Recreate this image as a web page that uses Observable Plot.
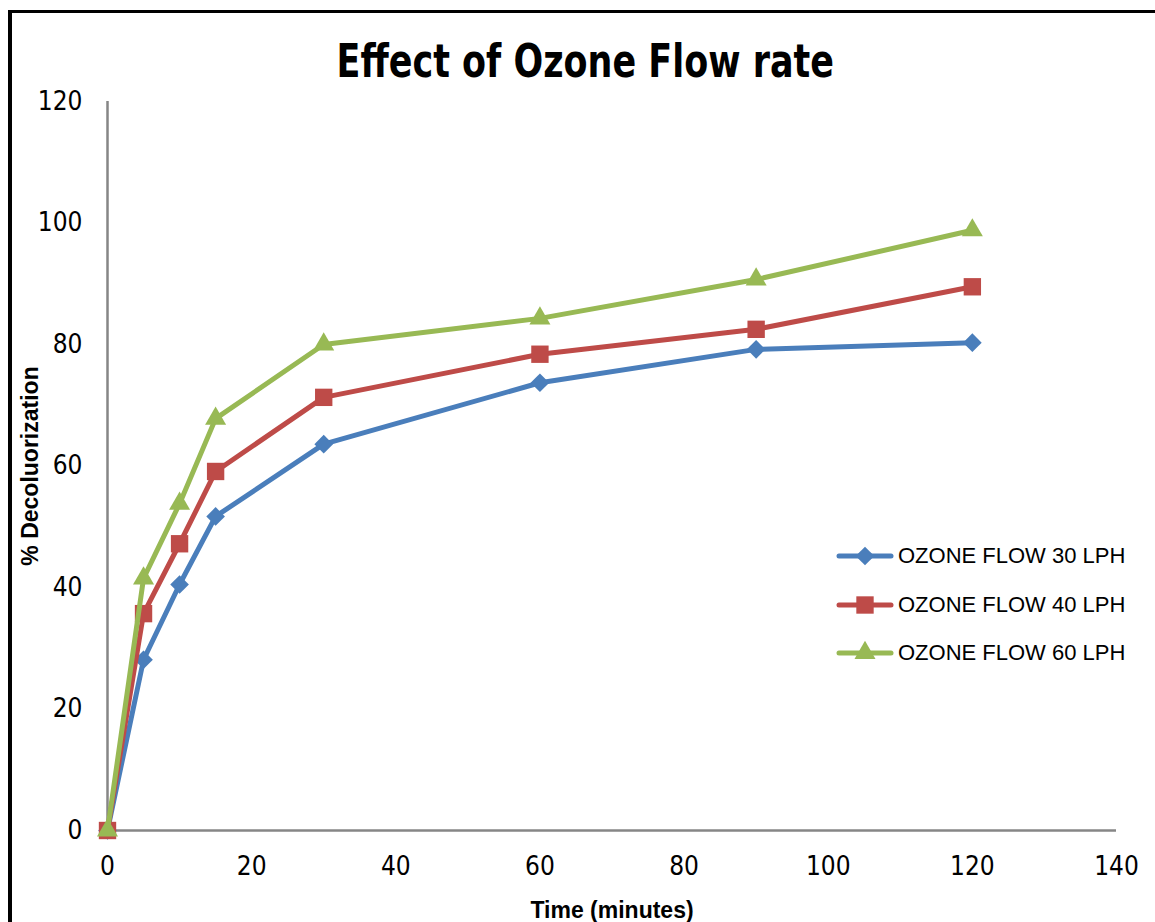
<!DOCTYPE html>
<html>
<head>
<meta charset="utf-8">
<script src="https://cdn.jsdelivr.net/npm/d3@7"></script>
<script src="https://cdn.jsdelivr.net/npm/@observablehq/plot@0.6"></script>
<style>
  html, body { margin: 0; padding: 0; background: #fff; }
  #wrap { position: relative; width: 1155px; height: 922px; overflow: hidden; background: #fff; }
  #frame { position: absolute; left: 8px; top: 10px; width: 1200px; height: 1000px;
           border-top: 3px solid #000; border-left: 4px solid #000; box-sizing: border-box; }
  #title { position: relative; height: 90px; text-align: center; color: #000; }
  #title span { display: inline-block; font-family: "DejaVu Sans", sans-serif; font-weight: bold; font-size: 46px;
           line-height: 46px; margin-top: 38px; margin-left: 16px; transform: scaleX(0.76); transform-origin: center; }
  #legend { position: absolute; left: 836px; top: 532px; font-family: "Liberation Sans", Arial, sans-serif; font-size: 22px; color: #000; }
  .row { display: flex; align-items: center; height: 48.5px; }
  .row svg { margin-right: 4px; }
</style>
</head>
<body>
<div id="wrap">
  <div id="frame"></div>
  <div id="title"><span>Effect of Ozone Flow rate</span></div>
  <div id="chart"></div>
  <div id="legend"></div>
</div>
<script>
const time = [0, 5, 10, 15, 30, 60, 90, 120];
const flow30 = [0, 28.1, 40.5, 51.7, 63.6, 73.7, 79.2, 80.3];
const flow40 = [0, 35.7, 47.2, 59.1, 71.3, 78.4, 82.5, 89.5];
const flow60 = [0, 41.5, 53.8, 67.8, 80.0, 84.3, 90.7, 98.8];
const seriesNames = ["OZONE FLOW 30 LPH", "OZONE FLOW 40 LPH", "OZONE FLOW 60 LPH"];
const seriesColors = ["#4a7ebb", "#be4b48", "#98b954"];
const seriesSymbols = ["diamond2", "square", "triangle"];
const seriesR = [8.4, 9.8, 7.8];
const xTicks = [0, 20, 40, 60, 80, 100, 120, 140];
const yTicks = [0, 20, 40, 60, 80, 100, 120];

const allSeries = [flow30, flow40, flow60];
const rows = [];
allSeries.forEach((vals, i) => time.forEach((t, j) => rows.push({series: seriesNames[i], idx: i, t, v: vals[j]})));

const tickFont = "Liberation Sans Narrow, DejaVu Sans Condensed, sans-serif";
const marks = [
  Plot.ruleX([0], {stroke: "#868686", strokeWidth: 2.5}),
  Plot.ruleY([0], {stroke: "#868686", strokeWidth: 2.5}),
  Plot.axisX({ticks: xTicks, tickSize: 0, tickPadding: 26, label: null, fontSize: 26, fontFamily: tickFont, fill: "#000"}),
  Plot.axisY({ticks: yTicks, tickSize: 0, tickPadding: 25, label: null, fontSize: 26, fontFamily: tickFont, fill: "#000"}),
  Plot.text(["Time (minutes)"], {frameAnchor: "bottom", dy: 87, fontSize: 23, fontWeight: "bold",
               fontFamily: "Liberation Sans, Arial, sans-serif", fill: "#000"}),
  Plot.text(["% Decoluorization"], {frameAnchor: "left", dx: -77, rotate: -90, textAnchor: "middle", fontSize: 23, fontWeight: "bold",
               fontFamily: "Liberation Sans, Arial, sans-serif", fill: "#000"})
];
seriesNames.forEach((name, i) => {
  const d = rows.filter(r => r.idx === i);
  marks.push(Plot.line(d, {x: "t", y: "v", stroke: seriesColors[i], strokeWidth: 5, strokeLinejoin: "round"}));
  marks.push(Plot.dot(d, {x: "t", y: "v", symbol: () => seriesSymbols[i], fill: seriesColors[i], r: seriesR[i], stroke: "none"}));
});

const chart = Plot.plot({
  width: 1155,
  height: 832,
  marginLeft: 107,
  marginRight: 39,
  marginTop: 11,
  marginBottom: 92,
  x: {domain: [0, 140]},
  y: {domain: [0, 120]},
  style: {background: "transparent", overflow: "visible"},
  marks
});
chart.style.position = "relative";
document.getElementById("chart").appendChild(chart);

const legend = document.getElementById("legend");
seriesNames.forEach((name, i) => {
  const row = document.createElement("div");
  row.className = "row";
  const sym = d3.symbol(i === 0 ? d3.symbolDiamond2 : i === 1 ? d3.symbolSquare : d3.symbolTriangle,
                        Math.PI * seriesR[i] * seriesR[i])();
  row.innerHTML = `<svg width="58" height="26"><line x1="3" x2="55" y1="13" y2="13" stroke="${seriesColors[i]}" stroke-width="5" stroke-linecap="round"/><path d="${sym}" transform="translate(29,13)" fill="${seriesColors[i]}"/></svg><span>${name}</span>`;
  legend.appendChild(row);
});
</script>
</body>
</html>
